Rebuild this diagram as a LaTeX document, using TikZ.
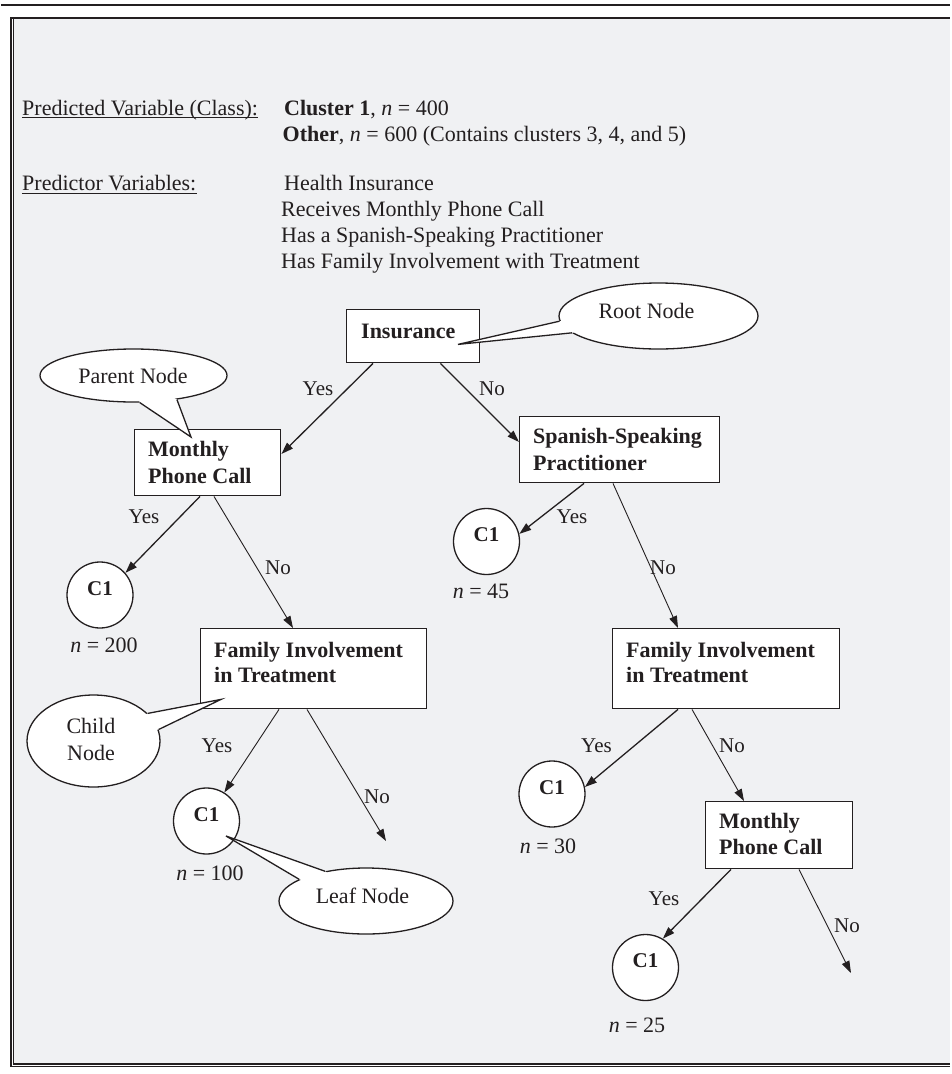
\documentclass[tikz,border=0pt]{standalone}
\usepackage{fontspec}
\setmainfont{Liberation Serif}
\usetikzlibrary{arrows.meta,shapes.geometric,calc}
\definecolor{ink}{HTML}{231F20}
\definecolor{paper}{HTML}{F0F1F3}
\tikzset{
  txt/.style={inner sep=0pt, text=ink, font=\fontsize{22}{26}\selectfont, anchor=base},
  btxt/.style={inner sep=0pt, text=ink, font=\fontsize{22}{26}\selectfont\bfseries, anchor=base west},
  ctxt/.style={inner sep=0pt, text=ink, font=\fontsize{21}{25}\selectfont\bfseries, anchor=base},
  lab/.style={inner sep=0pt, text=ink, font=\fontsize{21}{25}\selectfont, anchor=base},
  hdr/.style={inner sep=0pt, text=ink, font=\fontsize{22}{26}\selectfont, anchor=base west},
  box/.style={draw=ink, line width=1.4pt, fill=white, anchor=north west, inner sep=0pt},
  leaf/.style={circle, draw=ink, line width=1.3pt, fill=white, minimum size=66pt, inner sep=0pt},
  bubble/.style={ellipse, draw=ink, line width=1.3pt, fill=white, inner sep=0pt},
  arr/.style={draw=ink, line width=1.3pt, -{Triangle[length=12pt,width=8pt]}},
  tarr/.style={arr, line width=0.9pt},
  wedge/.style={draw=ink, line width=1.3pt, line join=miter},
}
\begin{document}
\begin{tikzpicture}[x=1pt,y=-1pt]
% page and frame
\fill[white] (0,0) rectangle (949,1074);
\fill[paper] (12.3,18.5) rectangle (949,1063.5);
\draw[ink, line width=2pt] (0,4.5) -- (949,4.5);
\draw[ink, line width=1.8pt] (9.5,18) -- (949,18);
\draw[ink, line width=1.1pt] (10,18) -- (10,1066.5) -- (949,1066.5);
\draw[ink, line width=1.1pt] (12.3,18) -- (12.3,1064) -- (949,1064);

% header
\node[hdr] (hPred) at (21,115) {Predicted Variable (Class):};
\node[hdr] (hCl1) at (283,115) {\textbf{Cluster 1}, \textit{n} = 400};
\node[hdr] (hOth) at (281.5,141.7) {\textbf{Other}, \textit{n} = 600 (Contains clusters 3, 4, and 5)};
\node[hdr] (hPv) at (21,190.7) {Predictor Variables:};
\node[hdr] (hv1) at (283,190.7) {Health Insurance};
\node[hdr] (hv2) at (280,216.7) {Receives Monthly Phone Call};
\node[hdr] (hv3) at (280,242.7) {Has a Spanish-Speaking Practitioner};
\node[hdr] (hv4) at (280,268.3) {Has Family Involvement with Treatment};
\draw[ink, line width=1pt] ([yshift=-2.5pt]hPred.base west) -- ([yshift=-2.5pt]hPred.base east);
\draw[ink, line width=1pt] ([yshift=-2.5pt]hPv.base west) -- ([yshift=-2.5pt]hPv.base east);

% boxes
\node[box, minimum width=133pt, minimum height=53pt] (ins) at (345,309) {};
\node[box, minimum width=146pt, minimum height=66pt] (monL) at (133,429) {};
\node[box, minimum width=200pt, minimum height=66pt] (span) at (518,416) {};
\node[box, minimum width=226pt, minimum height=80pt] (famL) at (199,628) {};
\node[box, minimum width=227pt, minimum height=80pt] (famR) at (611,628) {};
\node[box, minimum width=147pt, minimum height=67pt] (monR) at (704,801) {};

\node[btxt] (tIns) at (360,338) {Insurance};
\node[btxt] (tMonL1) at (147,456.7) {Monthly};
\node[btxt] (tMonL2) at (147,483) {Phone Call};
\node[btxt] (tSpan1) at (532,443) {Spanish-Speaking};
\node[btxt] (tSpan2) at (532,470) {Practitioner};
\node[btxt] (tFamL1) at (213,657) {Family Involvement};
\node[btxt] (tFamL2) at (213,682) {in Treatment};
\node[btxt] (tFamR1) at (625,657) {Family Involvement};
\node[btxt] (tFamR2) at (625,682) {in Treatment};
\node[btxt] (tMonR1) at (718,828) {Monthly};
\node[btxt] (tMonR2) at (718,854) {Phone Call};

% leaves
\node[leaf] (c1a) at (99,595) {};
\node[leaf] (c1b) at (205.5,821) {};
\node[leaf] (c1c) at (485.5,541.5) {};
\node[leaf] (c1d) at (551,794) {};
\node[leaf] (c1e) at (644.5,967.5) {};
\node[ctxt] (tc1a) at (c1a.center) {C1};
\node[ctxt] (tc1b) at (c1b.center) {C1};
\node[ctxt] (tc1c) at (c1c.center) {C1};
\node[ctxt] (tc1d) at (c1d.center) {C1};
\node[ctxt] (tc1e) at (c1e.center) {C1};

\node[txt] (na) at (103,652) {\textit{n} = 200};
\node[txt] (nc) at (480,598) {\textit{n} = 45};
\node[txt] (nb) at (209,880) {\textit{n} = 100};
\node[txt] (nd) at (547,853) {\textit{n} = 30};
\node[txt] (ne) at (636,1032) {\textit{n} = 25};

% dangling ends
\coordinate (endL) at (385,841);
\coordinate (endR) at (850,973);

% connectors
\draw[arr] ([xshift=27pt]ins.south west) -- ([yshift=-25pt]monL.north east);
\draw[arr] ([xshift=-40pt]ins.south east) -- ([yshift=-26pt]span.north west);
\draw[arr] ([xshift=66pt]monL.south west) -- (c1a.41);
\draw[tarr] ([xshift=80pt]monL.south west) -- ([xshift=93pt]famL.north west);
\draw[tarr] ([xshift=79pt]famL.south west) -- (c1b.58);
\draw[tarr] ([xshift=107pt]famL.south west) -- (endL);
\draw[arr] ([xshift=65pt]span.south west) -- (c1c.13);
\draw[tarr] ([xshift=94pt]span.south west) -- ([xshift=66pt]famR.north west);
\draw[arr] ([xshift=66pt]famR.south west) -- (c1d.12);
\draw[tarr] ([xshift=80pt]famR.south west) -- ([xshift=39pt]monR.north west);
\draw[arr] ([xshift=26pt]monR.south west) -- (c1e.59);
\draw[tarr] ([xshift=94pt]monR.south west) -- (endR);

% edge labels
\node[lab] (y1) at (317,395) {Yes};
\node[lab] (n1) at (491,395) {No};
\node[lab] (y2) at (143,523) {Yes};
\node[lab] (n2) at (277,574) {No};
\node[lab] (y3) at (571,523) {Yes};
\node[lab] (n3) at (662,574) {No};
\node[lab] (y4) at (216,752) {Yes};
\node[lab] (n4) at (376,803) {No};
\node[lab] (y5) at (595.5,752) {Yes};
\node[lab] (n5) at (731,752) {No};
\node[lab] (y6) at (663,905) {Yes};
\node[lab] (n6) at (846,932) {No};

% callouts
\coordinate (tipRoot) at ([xshift=112pt,yshift=19pt]ins.south west);
\coordinate (tipPar) at ([xshift=57pt,yshift=-8pt]monL.north west);
\coordinate (tipChild) at ([xshift=21pt,yshift=10pt]famL.south west);
\coordinate (tipLeaf) at ([xshift=19.5pt,yshift=-15pt]c1b.center);

\node[bubble, minimum width=199pt, minimum height=66pt] (rootC) at (657.5,316) {};
\fill[white] (rootC.183.5) -- (tipRoot) -- (rootC.191.6) -- ($(rootC.191.6)!0.2!(rootC.center)$) -- ($(rootC.183.5)!0.2!(rootC.center)$) -- cycle;
\draw[wedge] (rootC.183.5) -- (tipRoot) -- (rootC.191.6);
\node[txt] (tRoot) at (645.5,318) {Root Node};

\node[bubble, minimum width=187pt, minimum height=53pt] (parC) at (132.5,375.5) {};
\fill[white] (parC.283.8) -- (tipPar) -- (parC.331) -- ($(parC.331)!0.2!(parC.center)$) -- ($(parC.283.8)!0.2!(parC.center)$) -- cycle;
\draw[wedge] (parC.283.8) -- (tipPar) -- (parC.331);
\node[txt] (tPar) at (132,383) {Parent Node};

\node[bubble, minimum width=133pt, minimum height=92pt] (chC) at (92.5,741) {};
\fill[white] (chC.27.6) -- (tipChild) -- (chC.10.5) -- ($(chC.10.5)!0.2!(chC.center)$) -- ($(chC.27.6)!0.2!(chC.center)$) -- cycle;
\draw[wedge] (chC.27.6) -- (tipChild) -- (chC.10.5);
\node[txt] (tCh1) at (90,733) {Child};
\node[txt] (tCh2) at (90,760) {Node};

\node[bubble, minimum width=174pt, minimum height=66pt] (lfC) at (365,901) {};
\fill[white] (lfC.144.5) -- (tipLeaf) -- (lfC.162.3) -- ($(lfC.162.3)!0.2!(lfC.center)$) -- ($(lfC.144.5)!0.2!(lfC.center)$) -- cycle;
\draw[wedge] (lfC.144.5) -- (tipLeaf) -- (lfC.162.3);
\node[txt] (tLf) at (361.5,903) {Leaf Node};
\end{tikzpicture}
\end{document}
